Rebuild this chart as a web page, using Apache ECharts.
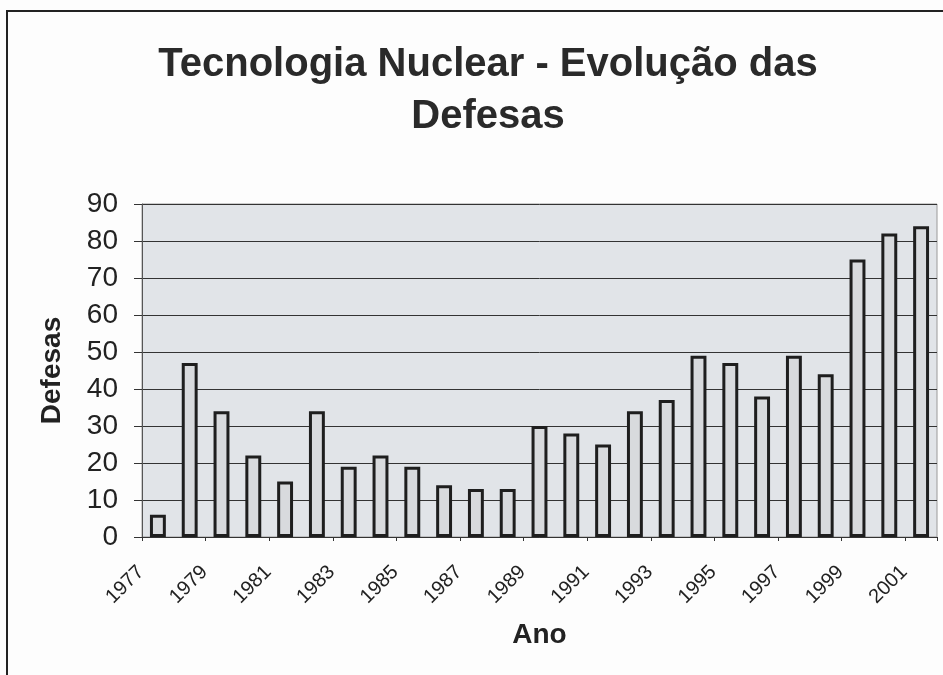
<!DOCTYPE html>
<html>
<head>
<meta charset="utf-8">
<title>Tecnologia Nuclear - Evolução das Defesas</title>
<script src="https://cdn.jsdelivr.net/npm/echarts@6/dist/echarts.min.js"></script>
<style>
  html, body { margin: 0; padding: 0; background: #fdfdfd; }
  #chart { width: 943px; height: 675px; }
</style>
</head>
<body>
<div id="chart"></div>
<script>
// anos (categorias)
const anos = ['1977', '1978', '1979', '1980', '1981', '1982', '1983', '1984', '1985',
  '1986', '1987', '1988', '1989', '1990', '1991', '1992', '1993', '1994', '1995',
  '1996', '1997', '1998', '1999', '2000', '2001']

// número de defesas por ano
const defesas = [6, 47, 34, 22, 15, 34, 19, 22, 19, 14, 13, 13, 30, 28, 25, 34, 37,
  49, 47, 38, 49, 44, 75, 82, 84]

// marcas do eixo y
const yMin = 0
const yMax = 90
const yPasso = 10

const fonte = '"Liberation Sans", Arial, sans-serif'

const chart = echarts.init(document.getElementById('chart'))

const option = {
  animation: false,
  textStyle: { fontFamily: fonte, color: '#222' },
  // moldura externa
  graphic: [
    {
      type: 'rect',
      shape: { x: 7, y: 11, width: 1000, height: 1000 },
      style: { fill: 'none', stroke: '#222', lineWidth: 2 },
      silent: true
    }
  ],
  title: {
    text: 'Tecnologia Nuclear - Evolução das\nDefesas',
    left: 483,
    top: 34,
    textAlign: 'center',
    textStyle: {
      fontFamily: fonte,
      fontSize: 40,
      fontWeight: 'bold',
      lineHeight: 52,
      color: '#2a2a2a'
    }
  },
  grid: {
    left: 142,
    right: 6,
    top: 204,
    bottom: 138,
    show: true,
    backgroundColor: '#e1e4e8',
    borderColor: '#9a9a9a',
    borderWidth: 1,
    outerBoundsMode: 'none'
  },
  xAxis: {
    type: 'category',
    data: anos,
    name: 'Ano',
    nameLocation: 'middle',
    nameGap: 84,
    nameTextStyle: { fontFamily: fonte, fontSize: 28, fontWeight: 'bold', color: '#222' },
    axisLine: { lineStyle: { color: '#333', width: 1 } },
    axisTick: { show: true, length: 4, lineStyle: { color: '#333' } },
    axisLabel: {
      interval: 1,
      rotate: 45,
      margin: 15,
      padding: [0, 24, 0, 0],
      fontSize: 20,
      color: '#222',
      fontFamily: fonte
    }
  },
  yAxis: {
    type: 'value',
    min: yMin,
    max: yMax,
    interval: yPasso,
    name: 'Defesas',
    nameLocation: 'middle',
    nameGap: 76,
    nameTextStyle: { fontFamily: fonte, fontSize: 28, fontWeight: 'bold', color: '#222' },
    axisLine: { show: true, lineStyle: { color: '#555' } },
    axisTick: { show: true, length: 8, lineStyle: { color: '#333' } },
    axisLabel: { fontSize: 28, margin: 24, color: '#222', fontFamily: fonte },
    splitLine: { lineStyle: { color: '#333', width: 1 } }
  },
  series: [
    {
      type: 'bar',
      data: defesas,
      barWidth: '50%',
      itemStyle: {
        color: '#d8dadd',
        borderColor: '#1e1e1e',
        borderWidth: 3
      }
    }
  ]
}

chart.setOption(option)
</script>
</body>
</html>
